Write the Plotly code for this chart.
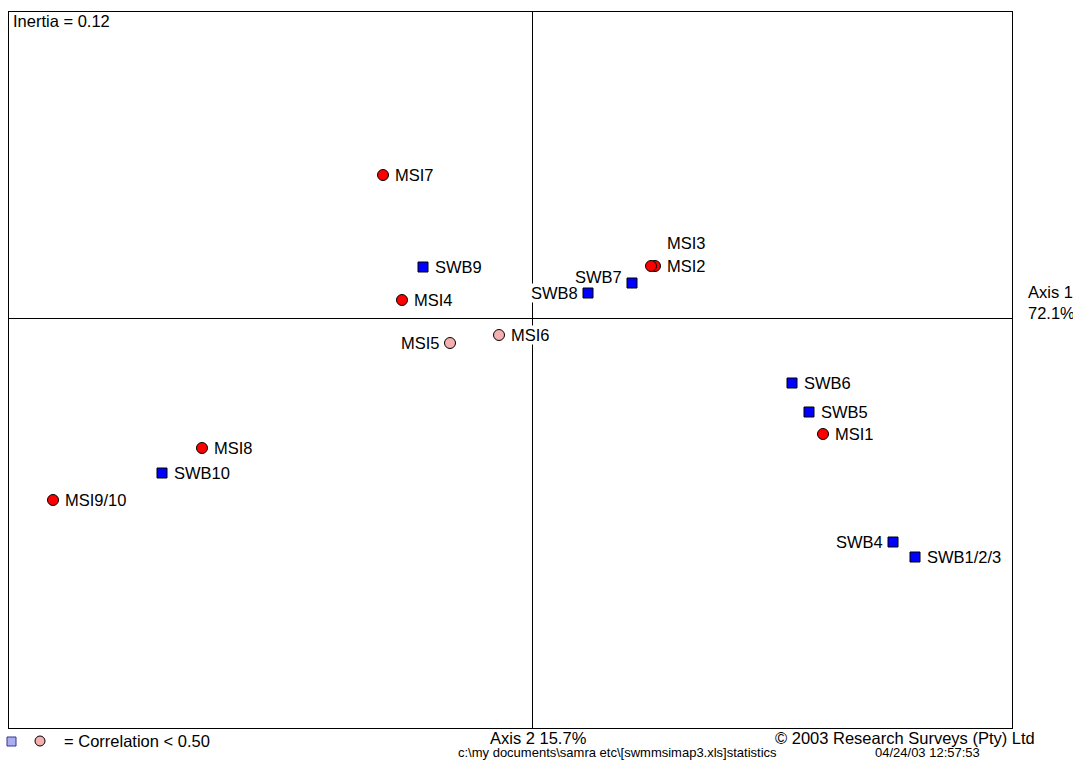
import plotly.graph_objects as go

# Correspondence analysis map: SWB (column points) and MSI (row points)
swb_labels = ["SWB1/2/3", "SWB4", "SWB5", "SWB6", "SWB7", "SWB8", "SWB9", "SWB10"]
swb_axis1 = [0.383, 0.361, 0.277, 0.260, 0.100, 0.056, -0.109, -0.370]
swb_axis2 = [-0.239, -0.224, -0.094, -0.065, 0.035, 0.025, 0.051, -0.155]

msi_labels = ["MSI1", "MSI2", "MSI3", "MSI4", "MSI5", "MSI6", "MSI7", "MSI8", "MSI9/10"]
msi_axis1 = [0.291, 0.123, 0.119, -0.130, -0.082, -0.033, -0.149, -0.330, -0.479]
msi_axis2 = [-0.116, 0.052, 0.052, 0.018, -0.025, -0.017, 0.143, -0.130, -0.182]
msi_low_corr = [False, False, False, False, True, True, False, False, False]

inertia = 0.12
axis1_pct = 72.1
axis2_pct = 15.7

# label placement (which side of the marker the name sits)
left_labels = {"SWB4", "SWB7", "SWB8", "MSI5"}
above_labels = {"MSI3"}
raised_labels = {"SWB7": 6}

FONT = "Liberation Sans, Arial, sans-serif"
BLUE = "#0000ff"
RED = "#ff0000"
PINK = "#f4b0b0"

L, R, T, B = 9, 61, 12, 32
W, H = 1073, 760
PW, PH = W - L - R, H - T - B


def px(xp):
    return (xp - L) / PW


def py(yp):
    return (H - B - yp) / PH


fig = go.Figure()

fig.add_trace(go.Scatter(
    x=swb_axis1, y=swb_axis2, mode="markers",
    marker=dict(symbol="square", size=10, color=BLUE, line=dict(color="black", width=1)),
    hoverinfo="text", text=swb_labels, showlegend=False,
))
fig.add_trace(go.Scatter(
    x=msi_axis1, y=msi_axis2, mode="markers",
    marker=dict(symbol="circle", size=11,
                color=[PINK if low else RED for low in msi_low_corr],
                line=dict(color="black", width=1)),
    hoverinfo="text", text=msi_labels, showlegend=False,
))

annotations = []
for names, xs, ys in [(swb_labels, swb_axis1, swb_axis2), (msi_labels, msi_axis1, msi_axis2)]:
    for name, xv, yv in zip(names, xs, ys):
        a = dict(x=xv, y=yv, xref="x", yref="y", text=name, showarrow=False,
                 font=dict(family=FONT, size=16.5, color="black"),
                 bgcolor="white", borderpad=0, yanchor="middle")
        if name in left_labels:
            a.update(xanchor="right", xshift=-9)
        elif name in above_labels:
            a.update(xanchor="left", xshift=15, yshift=23, bgcolor="rgba(0,0,0,0)")
        else:
            a.update(xanchor="left", xshift=11)
        if name in raised_labels:
            a.update(yshift=raised_labels[name], bgcolor="rgba(0,0,0,0)")
        annotations.append(a)

txt = dict(showarrow=False, xref="paper", yref="paper", font=dict(family=FONT, size=16.5, color="black"))
annotations += [
    dict(text=f"Inertia = {inertia:.2f}", x=px(11), y=py(21), xanchor="left", yanchor="middle", **txt),
    dict(text=f"Axis 1<br>{axis1_pct}%", x=px(1026), y=py(303), xanchor="left", yanchor="middle",
         align="left", **txt),
    dict(text=f"Axis 2 {axis2_pct}%", x=px(538), y=py(738), xanchor="center", yanchor="middle", **txt),
    dict(text="= Correlation < 0.50", x=px(62), y=py(741), xanchor="left", yanchor="middle", **txt),
    dict(text="© 2003 Research Surveys (Pty) Ltd", x=px(1037), y=py(738), xanchor="right",
         yanchor="middle", **txt),
]
small = dict(showarrow=False, xref="paper", yref="paper", font=dict(family=FONT, size=13, color="black"))
annotations += [
    dict(text="c:\\my documents\\samra etc\\[swmmsimap3.xls]statistics", x=px(617), y=py(752),
         xanchor="center", yanchor="middle", **small),
    dict(text="04/24/03 12:57:53", x=px(927), y=py(752), xanchor="center", yanchor="middle", **small),
]

# key symbols for low-correlation points
shapes = [
    dict(type="rect", xref="paper", yref="paper", x0=px(7), x1=px(16), y0=py(746), y1=py(737),
         fillcolor="#a9aef0", line=dict(color="#333399", width=1)),
    dict(type="circle", xref="paper", yref="paper", x0=px(35), x1=px(45), y0=py(746), y1=py(736),
         fillcolor=PINK, line=dict(color="black", width=1)),
]

fig.update_layout(
    width=W, height=H,
    margin=dict(l=L, r=R, t=T, b=B),
    paper_bgcolor="white", plot_bgcolor="white",
    annotations=annotations, shapes=shapes,
    xaxis=dict(range=[-0.523, 0.480], showgrid=False, showticklabels=False, ticks="",
               zeroline=True, zerolinecolor="black", zerolinewidth=1,
               showline=True, mirror=True, linecolor="black", linewidth=1),
    yaxis=dict(range=[-0.410, 0.306], showgrid=False, showticklabels=False, ticks="",
               zeroline=True, zerolinecolor="black", zerolinewidth=1,
               showline=True, mirror=True, linecolor="black", linewidth=1),
    showlegend=False,
)

fig.write_html("out.html")
